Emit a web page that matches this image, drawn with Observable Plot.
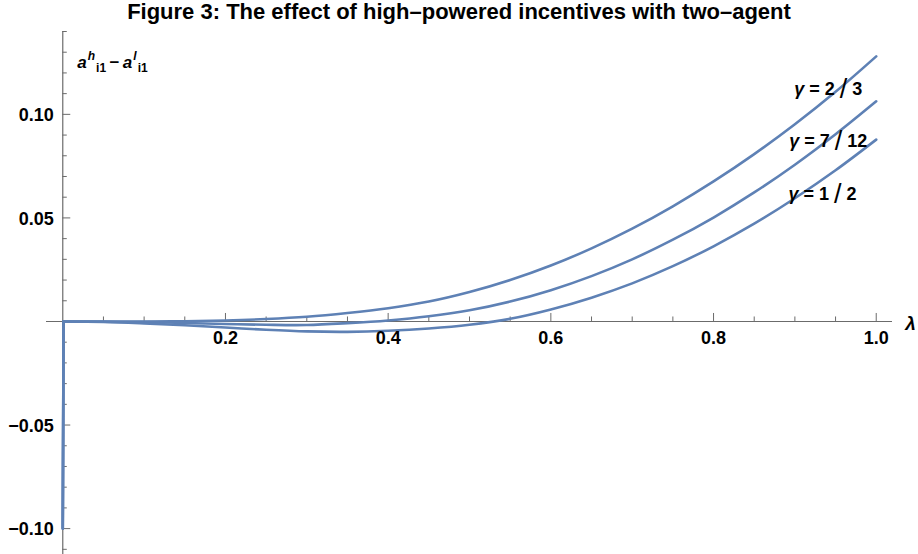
<!DOCTYPE html>
<html>
<head>
<meta charset="utf-8">
<script src="https://cdn.jsdelivr.net/npm/d3@7"></script>
<script src="https://cdn.jsdelivr.net/npm/@observablehq/plot@0.6"></script>
<style>
  html, body { margin: 0; padding: 0; background: #fff; }
  #wrap { position: relative; width: 918px; height: 554px; overflow: hidden; }
  #title { position: absolute; top: 1px; left: 0; width: 918px; text-align: center;
           font: bold 22px "Liberation Sans", Arial, sans-serif; line-height: 22px; color: #000; }
  #chart { position: absolute; top: 28px; left: 0; }
</style>
</head>
<body>
<div id="wrap">
  <div id="title">Figure 3: The effect of high–powered incentives with two–agent</div>
  <div id="chart"></div>
</div>
<script>
// ---- data ----
const lambda = [0, 0.001, 0.05, 0.1, 0.15, 0.2, 0.25, 0.3, 0.35, 0.4, 0.45, 0.5, 0.55, 0.6, 0.65, 0.7, 0.75, 0.8, 0.85, 0.9, 0.95, 1.0];
const gamma23  = [-0.10, 0, 0, 0, 0.0001, 0.0005, 0.0012, 0.0023, 0.0041, 0.0064, 0.0096, 0.0142, 0.0200, 0.0270, 0.0353, 0.0448, 0.0556, 0.0676, 0.0808, 0.0952, 0.1109, 0.1280];
const gamma712 = [-0.10, 0, -0.0001, -0.0003, -0.0007, -0.0012, -0.0016, -0.0017, -0.0008, 0.0005, 0.0025, 0.0054, 0.0096, 0.0151, 0.0219, 0.0300, 0.0395, 0.0502, 0.0623, 0.0757, 0.0904, 0.1063];
const gamma12  = [-0.10, 0, -0.0002, -0.0009, -0.0018, -0.0029, -0.0040, -0.0048, -0.0050, -0.0045, -0.0034, -0.0016, 0.0013, 0.0058, 0.0115, 0.0184, 0.0267, 0.0363, 0.0472, 0.0595, 0.0730, 0.0878];
const seriesNames = ["γ = 2/3", "γ = 7/12", "γ = 1/2"];
const labelX = [0.941, 0.941, 0.934];
const labelY = [0.112, 0.0869, 0.0613];
const xTickLabels = [0.2, 0.4, 0.6, 0.8, 1.0];
const yTickLabels = [-0.10, -0.05, 0.05, 0.10];

// ---- build tables ----
const allSeries = [gamma23, gamma712, gamma12];
const rows = [], dropRows = [];
allSeries.forEach((vals, s) => lambda.forEach((l, i) => {
  const r = {lambda: l, value: vals[i], series: seriesNames[s]};
  if (i >= 1) rows.push(r);
  if (i <= 1) dropRows.push(r);
}));

const xDomain = [-0.02, 1.02];
const yDomain = [-0.1125, 0.14];
const W = 918, H = 526, mT = 3, mB = 0, mL = 46, mR = 26;
const xPerPx = (xDomain[1] - xDomain[0]) / (W - mL - mR);
const yPerPx = (yDomain[1] - yDomain[0]) / (H - mT - mB);

const xMinor = d3.range(1, 21).map(i => i * 0.05).filter(v => !xTickLabels.some(t => Math.abs(t - v) < 1e-9));
const yMinor = d3.range(-11, 15).map(i => i * 0.01).filter(v => Math.abs(v) > 1e-9 && !yTickLabels.some(t => Math.abs(t - v) < 1e-9));

const axisColor = "#6b6b6b";
const lineColor = "#5E81B5";
const fontFam = "'Liberation Sans', Arial, sans-serif";
const fmtY = d => (d < 0 ? "\u2212" : "") + Math.abs(d).toFixed(2);

const plot = Plot.plot({
  width: W, height: H,
  marginTop: mT, marginBottom: mB, marginLeft: mL, marginRight: mR,
  style: {fontFamily: fontFam, background: "white", overflow: "visible"},
  x: {domain: xDomain, axis: null},
  y: {domain: yDomain, axis: null},
  marks: [
    Plot.ruleY([0], {x1: xDomain[0], x2: xDomain[1], stroke: axisColor, strokeWidth: 1.2}),
    Plot.ruleX([0], {y1: yDomain[0], y2: yDomain[1], stroke: axisColor, strokeWidth: 1.2}),
    Plot.ruleX(xTickLabels, {x: d => d, y1: 0, y2: 8 * yPerPx, stroke: axisColor, strokeWidth: 1}),
    Plot.ruleX(xMinor, {x: d => d, y1: 0, y2: 4.5 * yPerPx, stroke: axisColor, strokeWidth: 1}),
    Plot.ruleY(yTickLabels, {y: d => d, x1: 0, x2: 8 * xPerPx, stroke: axisColor, strokeWidth: 1}),
    Plot.ruleY(yMinor, {y: d => d, x1: 0, x2: 4.5 * xPerPx, stroke: axisColor, strokeWidth: 1}),
    Plot.line(dropRows, {x: "lambda", y: "value", z: "series", stroke: lineColor, strokeWidth: 2.6, curve: "linear"}),
    Plot.line(rows, {x: "lambda", y: "value", z: "series", stroke: lineColor, strokeWidth: 2.6, curve: "catmull-rom"}),
    Plot.text(xTickLabels, {x: d => d, y: 0, text: d => d.toFixed(1), dy: 17, fontSize: 18, fontWeight: "bold", fill: "#000"}),
    Plot.text(yTickLabels, {x: 0, y: d => d, text: fmtY, textAnchor: "end", dx: -9, dy: 1, fontSize: 18, fontWeight: "bold", fill: "#000"}),
    Plot.text(["λ"], {x: xDomain[1], y: 0, text: d => d, dx: 18, dy: 2, fontSize: 19, fontWeight: "bold", fontStyle: "italic", fill: "#000"}),
    Plot.text(seriesNames, {x: (d, i) => labelX[i], y: (d, i) => labelY[i], text: d => d, fontSize: 18, fontWeight: "bold", fill: "#000", className: "curvelab"})
  ]
});
document.getElementById("chart").appendChild(plot);

// restyle curve labels: italic gamma, tall fraction slash
d3.select(plot).selectAll(".curvelab text").each(function() {
  const t = d3.select(this);
  const s = t.text();
  const m = s.match(/^γ = (\d+)\/(\d+)$/);
  if (!m) return;
  t.text(null);
  t.append("tspan").attr("font-style", "italic").text("γ");
  t.append("tspan").text(" = " + m[1] + " ");
  t.append("tspan").attr("font-size", 27).attr("font-weight", "normal").attr("dy", 3).text("/");
  t.append("tspan").attr("dy", -3).text(" " + m[2]);
});

// y-axis label with super/subscripts
const sx = plot.scale("x"), sy = plot.scale("y");
const lab = d3.select(plot).append("text")
  .attr("x", sx.apply(0) + 15)
  .attr("y", sy.apply(yDomain[1]) + 37)
  .attr("text-anchor", "start")
  .attr("font-family", fontFam)
  .attr("font-weight", "bold")
  .attr("font-size", 17)
  .attr("fill", "#000");
lab.append("tspan").attr("font-style", "italic").text("a");
lab.append("tspan").attr("font-style", "italic").attr("font-size", 12).attr("dy", -8).attr("dx", 1).text("h");
lab.append("tspan").attr("font-size", 12).attr("dy", 12).attr("dx", 1).text("i1");
lab.append("tspan").attr("dy", -4).text("\u2009\u2212\u2009");
lab.append("tspan").attr("font-style", "italic").text("a");
lab.append("tspan").attr("font-style", "italic").attr("font-size", 12).attr("dy", -8).attr("dx", 1).text("l");
lab.append("tspan").attr("font-size", 12).attr("dy", 12).attr("dx", 1).text("i1");
</script>
</body>
</html>
